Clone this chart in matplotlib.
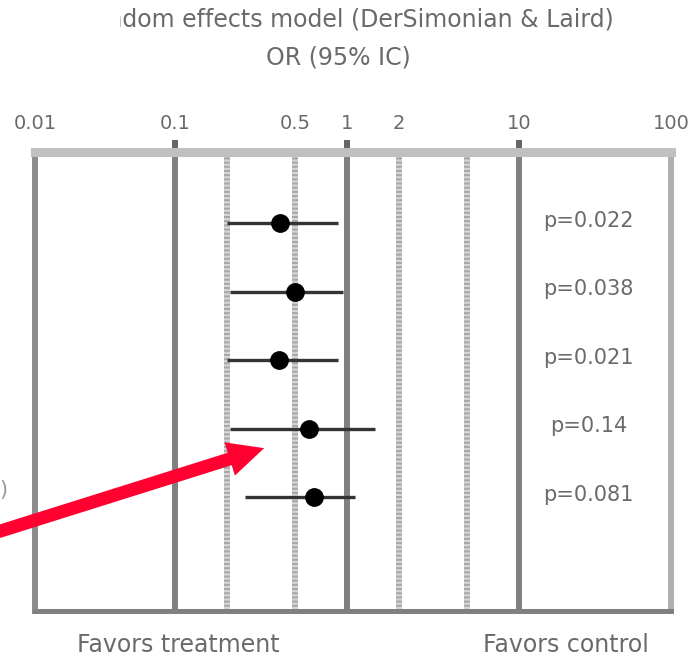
import matplotlib
matplotlib.use('Agg')
import matplotlib.pyplot as plt
from matplotlib.transforms import Bbox, blended_transform_factory

# data
title_lines = ['Random effects model (DerSimonian & Laird)', 'OR (95% IC)']
rows = [1, 2, 3, 4, 5]
or_est = [0.41, 0.50, 0.40, 0.60, 0.64]
ci_low = [0.20, 0.21, 0.20, 0.21, 0.255]
ci_high = [0.89, 0.95, 0.89, 1.45, 1.11]
p_labels = ['p=0.022', 'p=0.038', 'p=0.021', 'p=0.14', 'p=0.081']

solid_refs = [0.1, 1, 10]
dotted_refs = [0.2, 0.5, 2, 5]
major_labels = ['0.1', '1', '10']
minor_vals = [0.5, 2]
minor_labels = ['0.5', '2']
edge_labels = ['0.01', '100']
footer = ['Favors treatment', 'Favors control']
arrow_tip = (0.33, 4.28)

W, H = 697, 660
XLIM = (0.01535, 76.5)
TXT = '#6a6a6a'

fig = plt.figure(figsize=(W / 100, H / 100), dpi=100)
# axes box in pixels: left 35, right 671, top 151.5, bottom 610.5
ax = fig.add_axes([35 / W, (H - 610.5) / H, 636 / W, 459 / H])
ax.set_xscale('log')
ax.set_xlim(*XLIM)
ax.set_ylim(6.65, -0.05)

for v in solid_refs:
    ax.axvline(v, color='#808080', lw=4.3, zorder=1)
for v in dotted_refs:
    ax.axvline(v, color='#d6d6d6', lw=4.3, zorder=1)
    ax.axvline(v, color='#a8a8a8', lw=4.3, ls=(0, (0.35, 0.35)), zorder=1.1)

ax.hlines(rows, ci_low, ci_high, color='#333333', lw=2.4, zorder=3)
ax.plot(or_est, rows, 'o', color='black', ms=12.5, zorder=4)

ptrans = blended_transform_factory(ax.transAxes, ax.transData)
for r, lab in zip(rows, p_labels):
    ax.text(0.87, r - 0.04, lab, transform=ptrans, ha='center', va='center',
            fontsize=15, color=TXT)

# axis and ticks on top
ax.xaxis.tick_top()
ax.set_xticks(solid_refs, major_labels)
ax.set_xticks([XLIM[0]] + minor_vals + [XLIM[1]],
              [edge_labels[0]] + minor_labels + [edge_labels[1]], minor=True)
ax.set_yticks([])
ax.tick_params(axis='x', which='major', length=9, width=4.3, color='#666666',
               pad=4, labelsize=14, labelcolor=TXT)
ax.tick_params(axis='x', which='minor', length=0, pad=13,
               labelsize=14, labelcolor=TXT)

ax.spines['top'].set_color('#c0c0c0')
ax.spines['top'].set_linewidth(6.5)
ax.spines['bottom'].set_color('#808080')
ax.spines['bottom'].set_linewidth(3.6)
ax.spines['left'].set_color('#8c8c8c')
ax.spines['left'].set_linewidth(4.3)
ax.spines['right'].set_color('#b0b0b0')
ax.spines['right'].set_linewidth(4.3)

# title, clipped on the left like in the screenshot
t1 = fig.text(345 / W, 1 - 19 / H, title_lines[0], ha='center', va='center',
              fontsize=17, color=TXT)
t1.set_clip_box(Bbox([[120, 0], [W, H]]))
t1.set_clip_on(True)
fig.text(338 / W, 1 - 57 / H, title_lines[1], ha='center', va='center',
         fontsize=17, color=TXT)

# cut-off row label at the far left
fig.text(7 / W, 1 - 490 / H, ')', ha='right', va='center', fontsize=15,
         color='#9a9a9a')

ftrans = blended_transform_factory(ax.transAxes, fig.transFigure)
ax.text(0.225, 0.004, footer[0], transform=ftrans, ha='center',
        va='bottom', fontsize=17, color=TXT)
ax.text(0.835, 0.004, footer[1], transform=ftrans, ha='center',
        va='bottom', fontsize=17, color=TXT)

# red arrow pointing at the plot
ax.annotate('', xy=arrow_tip, xycoords='data',
            xytext=(-0.022, 1 - 536 / H), textcoords='figure fraction',
            annotation_clip=False,
            arrowprops=dict(arrowstyle='simple,head_length=1.3,head_width=1.25,tail_width=0.47',
                            mutation_scale=20, color='#ff0030', lw=0,
                            shrinkA=0, shrinkB=0),
            zorder=10)

fig.savefig('out.png', dpi=100)
